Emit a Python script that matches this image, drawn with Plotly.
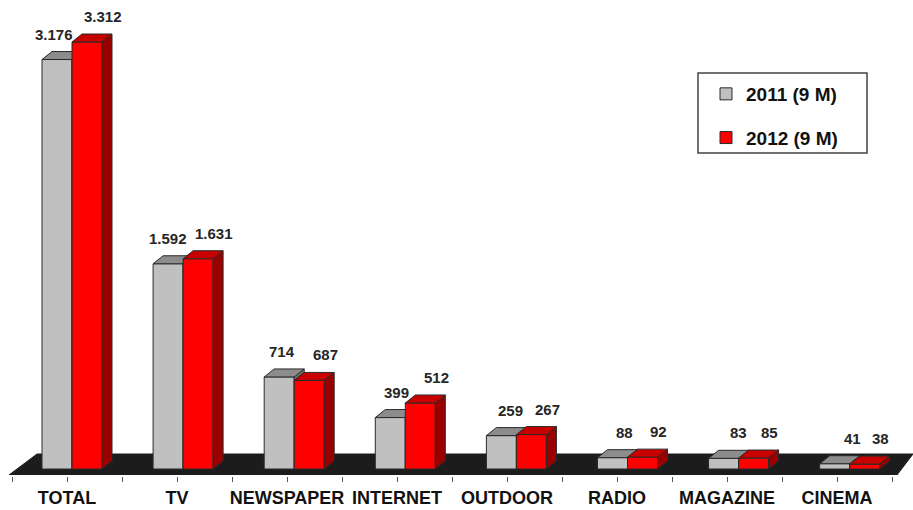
import plotly.graph_objects as go

# ---------------- data ----------------
categories = ["TOTAL", "TV", "NEWSPAPER", "INTERNET", "OUTDOOR", "RADIO", "MAGAZINE", "CINEMA"]
values_2011 = [3176, 1592, 714, 399, 259, 88, 83, 41]
values_2012 = [3312, 1631, 687, 512, 267, 92, 85, 38]
series_names = ["2011 (9 M)", "2012 (9 M)"]

# ---------------- geometry / style ----------------
W, H = 913, 510
ml, mr, mt, mb = 9, 0, 5, 35
cat_px = 110.0          # pixels per category
cat0_px = 67.0          # pixel centre of first category
scale = 427.0 / 3312.0  # pixels per value unit
base_gap_px = 6.0       # bars' base above plot bottom

xr = [(ml - cat0_px) / cat_px, (W - mr - cat0_px) / cat_px]
ymin = -base_gap_px / scale
ymax = ymin + (H - mt - mb) / scale

dx = 10.0 / cat_px      # depth offset in x (data units)
dy = 8.0 / scale        # depth offset in y (data units)
bw = 30.0 / cat_px      # bar front width
idx = list(range(len(categories)))
offs = [(-25.0 + 1.1 * i) / cat_px for i in idx]

FONT = "Liberation Sans, Arial, sans-serif"
EDGE = "#2a2a2a"

series = [
    dict(name=series_names[0], vals=values_2011, off=offs,
         front="#c0c0c0", top="#8c8c8c", side="#707070",
         lab_shift=[-3 + 3 * i for i in idx]),
    dict(name=series_names[1], vals=values_2012, off=[o + bw for o in offs],
         front="#ff0000", top="#c80000", side="#9a0000",
         lab_shift=[16 for i in idx]),
]


def fmt(v):
    return f"{v:,}".replace(",", ".")


fig = go.Figure()
z = 0
for s in series:
    # front faces as real bars
    fig.add_trace(go.Bar(
        x=idx, y=s["vals"], base=0, offset=s["off"], width=bw,
        name=s["name"], legendgroup=s["name"],
        marker=dict(color=s["front"], line=dict(color=EDGE, width=1)),
        zorder=z, hoverinfo="skip",
    ))
    # top and side faces derived from the same values
    tx, ty, sx, sy = [], [], [], []
    for i, v in zip(idx, s["vals"]):
        x0 = i + s["off"][i]
        x1 = x0 + bw
        tx += [x0, x1, x1 + dx, x0 + dx, x0, None]
        ty += [v, v, v + dy, v + dy, v, None]
        sx += [x1, x1, x1 + dx, x1 + dx, x1, None]
        sy += [0, v, v + dy, dy, 0, None]
    fig.add_trace(go.Scatter(x=sx, y=sy, mode="lines", fill="toself",
                             fillcolor=s["side"], line=dict(color=EDGE, width=1),
                             showlegend=False, legendgroup=s["name"],
                             hoverinfo="skip", zorder=z + 1))
    fig.add_trace(go.Scatter(x=tx, y=ty, mode="lines", fill="toself",
                             fillcolor=s["top"], line=dict(color=EDGE, width=1),
                             showlegend=False, legendgroup=s["name"],
                             hoverinfo="skip", zorder=z + 1))
    z += 2

# value labels
annotations = []
for s in series:
    for i, v in zip(idx, s["vals"]):
        annotations.append(dict(
            x=i + s["off"][i] + bw / 2, y=v + dy, xref="x", yref="y",
            text=fmt(v), showarrow=False, yanchor="bottom",
            xshift=s["lab_shift"][i], yshift=7,
            font=dict(family=FONT, size=15, color="#262626", weight="bold"),
        ))

# floor (black parallelogram)
yb = 15.0 / scale
fl = (9 - cat0_px) / cat_px
fr = (897 - cat0_px) / cat_px
bl = (37 - cat0_px) / cat_px
br = (913 - cat0_px) / cat_px
floor_path = f"M {fl},{ymin} L {fr},{ymin} L {br},{yb} L {bl},{yb} Z"

plot_w = W - ml - mr
plot_h = H - mt - mb


def px2paper_x(p):
    return (p - ml) / plot_w


def px2paper_y(p):
    return (H - mb - p) / plot_h


shapes = [
    dict(type="path", path=floor_path, xref="x", yref="y",
         fillcolor="#1c1c1c", line=dict(color="#1c1c1c", width=1), layer="below"),
    dict(type="rect", xref="paper", yref="paper",
         x0=px2paper_x(698), x1=px2paper_x(867), y0=px2paper_y(153), y1=px2paper_y(73),
         line=dict(color="#444444", width=1.5), fillcolor="rgba(0,0,0,0)"),
]

fig.update_layout(
    width=W, height=H,
    margin=dict(l=ml, r=mr, t=mt, b=mb, pad=0),
    paper_bgcolor="white", plot_bgcolor="white",
    barmode="overlay",
    showlegend=True,
    legend=dict(
        x=px2paper_x(706), xanchor="left", y=px2paper_y(75), yanchor="top",
        bgcolor="rgba(0,0,0,0)", borderwidth=0,
        font=dict(family=FONT, size=19, color="#111111", weight="bold"),
        traceorder="grouped", tracegroupgap=16, itemclick=False,
    ),
    annotations=annotations,
    shapes=shapes,
    xaxis=dict(
        range=xr, tickmode="array", tickvals=idx, ticktext=categories,
        showgrid=False, zeroline=False, showline=True, linecolor="#555555", linewidth=2,
        ticks="outside", ticklen=5, tickcolor="#555555", tickwidth=1,
        minor=dict(tickmode="array", tickvals=[i - 0.5 for i in idx] + [len(idx) - 0.5],
                   ticks="outside", ticklen=5, tickcolor="#555555", tickwidth=1),
        tickfont=dict(family=FONT, size=18, color="#111111", weight="bold"),
        fixedrange=True,
    ),
    yaxis=dict(range=[ymin, ymax], visible=False, fixedrange=True),
)

fig.write_html("out.html")
